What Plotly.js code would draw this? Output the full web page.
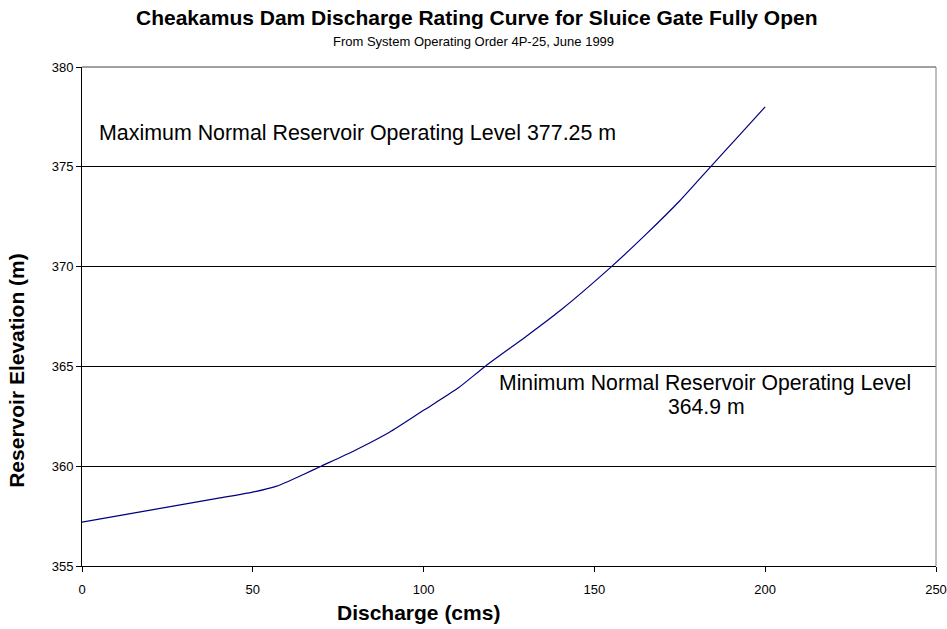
<!DOCTYPE html>
<html>
<head>
<meta charset="utf-8">
<script src="https://cdn.plot.ly/plotly-3.0.1.min.js"></script>
<style>html,body{margin:0;padding:0;background:#fff;}#chart{width:947px;height:629px;}</style>
</head>
<body>
<div id="chart"></div>
<script>
const discharge = [0, 10, 20, 30, 40, 50, 57, 65, 70, 80, 90, 100, 110, 118, 130, 140, 155, 165, 175, 184, 192, 200];
const elevation = [357.2, 357.5, 357.8, 358.1, 358.4, 358.7, 359.0, 359.6, 360.0, 360.8, 361.7, 362.8, 363.9, 365.0, 366.5, 367.8, 370.0, 371.6, 373.3, 375.0, 376.5, 378.0];
const xTicks = [0, 50, 100, 150, 200, 250];
const yTicks = [355, 360, 365, 370, 375, 380];

const F = '"Liberation Sans", Arial, sans-serif';
const data = [{
  x: discharge, y: elevation, type: 'scatter', mode: 'lines',
  line: {color: '#000080', width: 1.2, shape: 'spline', smoothing: 0.6},
  hoverinfo: 'skip', showlegend: false
}];
const layout = {
  width: 947, height: 629,
  margin: {l: 82, r: 11, t: 67, b: 63},
  paper_bgcolor: '#fff', plot_bgcolor: '#fff',
  font: {family: F, color: '#000'},
  xaxis: {
    range: [0, 250], tickvals: xTicks, ticktext: xTicks.map(String),
    showgrid: false, zeroline: false, showline: true, linecolor: '#000', linewidth: 1,
    ticks: 'outside', ticklen: 5, tickcolor: '#000', ticklabelstandoff: 6,
    tickfont: {family: F, size: 13, color: '#000'}
  },
  yaxis: {
    range: [355, 380], tickvals: yTicks, ticktext: yTicks.map(String),
    showgrid: true, gridcolor: '#000', gridwidth: 1, zeroline: false,
    showline: true, linecolor: '#000', linewidth: 1,
    ticks: 'outside', ticklen: 5, tickcolor: '#000',
    tickfont: {family: F, size: 13, color: '#000'}
  },
  shapes: [
    {type: 'line', xref: 'paper', yref: 'paper', x0: 0, x1: 1, y0: 1, y1: 1, line: {color: '#808080', width: 1.5}},
    {type: 'line', xref: 'paper', yref: 'paper', x0: 1, x1: 1, y0: 0, y1: 1, line: {color: '#808080', width: 1}}
  ],
  annotations: [
    {xref: 'paper', yref: 'paper', x: 0.462, y: 1.100, xanchor: 'center', yanchor: 'middle', showarrow: false,
     text: '<b>Cheakamus Dam Discharge Rating Curve for Sluice Gate Fully Open</b>', font: {family: F, size: 21, color: '#000'}},
    {xref: 'paper', yref: 'paper', x: 0.458, y: 1.052, xanchor: 'center', yanchor: 'middle', showarrow: false,
     text: 'From System Operating Order 4P-25, June 1999', font: {family: F, size: 13, color: '#000'}},
    {xref: 'paper', yref: 'paper', x: 0.394, y: -0.094, xanchor: 'center', yanchor: 'middle', showarrow: false,
     text: '<b>Discharge (cms)</b>', font: {family: F, size: 21, color: '#000'}},
    {xref: 'paper', yref: 'paper', x: -0.0762, y: 0.393, xanchor: 'center', yanchor: 'middle', showarrow: false, textangle: -90,
     text: '<b>Reservoir Elevation (m)</b>', font: {family: F, size: 21, color: '#000'}},
    {x: 4.4, y: 376.7, xref: 'x', yref: 'y', xanchor: 'left', yanchor: 'middle', showarrow: false,
     text: 'Maximum Normal Reservoir Operating Level 377.25 m', font: {family: F, size: 21.4, color: '#000'}},
    {x: 182.3, y: 364.17, xref: 'x', yref: 'y', xanchor: 'center', yanchor: 'middle', showarrow: false,
     text: 'Minimum Normal Reservoir Operating Level', font: {family: F, size: 21.2, color: '#000'}},
    {x: 182.9, y: 362.97, xref: 'x', yref: 'y', xanchor: 'center', yanchor: 'middle', showarrow: false,
     text: '364.9 m', font: {family: F, size: 21.2, color: '#000'}}
  ]
};
Plotly.newPlot('chart', data, layout, {displayModeBar: false, staticPlot: true});
</script>
</body>
</html>
